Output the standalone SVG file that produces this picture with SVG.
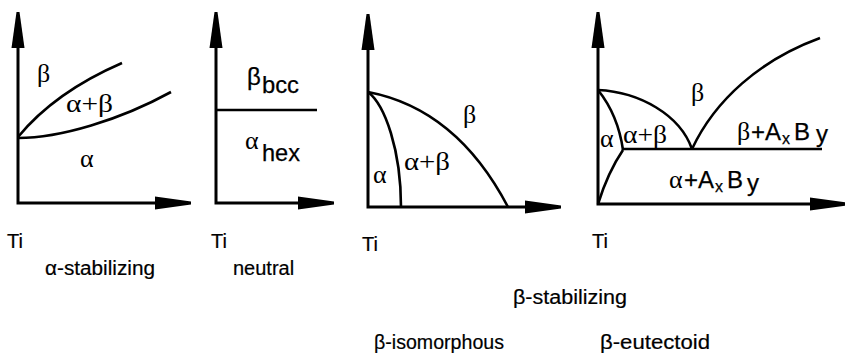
<svg xmlns="http://www.w3.org/2000/svg" width="845" height="358" viewBox="0 0 845 358">
<defs>
<style>
.ax{fill:none;stroke:#000;stroke-width:3}
.cv{fill:none;stroke:#000;stroke-width:2.6}
.g{font-family:"Liberation Serif","Times New Roman",serif;font-size:26px;fill:#000}
.s{font-family:"Liberation Sans",Arial,sans-serif;font-size:24px;fill:#000;stroke:#000;stroke-width:0.25}
.lb{font-family:"Liberation Sans",Arial,sans-serif;font-size:20px;fill:#000;stroke:#000;stroke-width:0.2}
.sub{font-size:16px}
</style>
<polygon id="ah" points="-1.5,0 1.5,0 6.5,36 -6.5,36" fill="#000"/>
</defs>
<rect width="845" height="358" fill="#fff"/>

<g id="panel-alpha">
<g id="axes1">
<path class="ax" d="M18,40 V203 H160"/>
<use href="#ah" transform="translate(18,12)"/>
<use href="#ah" transform="translate(191,203) rotate(90)"/>
</g>
<g id="curves1">
<path class="cv" d="M18,137 Q55,92 122,63"/>
<path class="cv" d="M18,138 C60,138 120,120 171,92"/>
</g>
<text class="g" x="37" y="82">β</text>
<text class="g" x="66" y="112" textLength="47" lengthAdjust="spacingAndGlyphs">α+β</text>
<text class="g" x="80" y="167">α</text>
</g>

<g id="panel-neutral">
<g id="axes2">
<path class="ax" d="M216,40 V203 H300"/>
<use href="#ah" transform="translate(216,12)"/>
<use href="#ah" transform="translate(334,203) rotate(90)"/>
</g>
<path class="cv" d="M216,110 H317"/>
<text x="247" y="85"><tspan class="s" font-size="23">β</tspan><tspan class="s" x="262" y="93" font-size="21" textLength="37" lengthAdjust="spacingAndGlyphs">bcc</tspan></text>
<text x="245" y="149"><tspan class="g" font-size="24">α</tspan><tspan class="s" x="262" y="161" font-size="21" textLength="38" lengthAdjust="spacingAndGlyphs">hex</tspan></text>
</g>

<g id="panel-isomorphous">
<g id="axes3">
<path class="ax" d="M368,44 V207 H530"/>
<use href="#ah" transform="translate(368,14)"/>
<use href="#ah" transform="translate(561,207) rotate(90)"/>
</g>
<g id="curves3">
<path class="cv" d="M368,92 C410,100 465,125 508,207"/>
<path class="cv" d="M368,92 C385,105 401,150 401,207"/>
</g>
<text class="g" x="463" y="123">β</text>
<text class="g" x="404" y="170" textLength="46" lengthAdjust="spacingAndGlyphs">α+β</text>
<text class="g" x="373" y="183">α</text>
</g>

<g id="panel-eutectoid">
<g id="axes4">
<path class="ax" d="M598,40 V204 H822"/>
<use href="#ah" transform="translate(598,12)"/>
<use href="#ah" transform="translate(846,204) rotate(90)"/>
</g>
<g id="curves4">
<path class="cv" d="M598,90 C640,92 680,115 692,149"/>
<path class="cv" d="M598,90 Q618,115 623,150"/>
<path class="cv" d="M623,150 Q608,172 598,204"/>
<path class="cv" d="M692,149 C715,100 760,60 820,38"/>
<path class="cv" d="M623,149 H822"/>
</g>
<text class="g" x="691" y="101">β</text>
<text class="g" x="623" y="143" font-size="23" textLength="44" lengthAdjust="spacingAndGlyphs">α+β</text>
<text class="g" x="600" y="147" font-size="23">α</text>
<text y="140"><tspan class="g" x="737" font-size="24">β</tspan><tspan class="s" x="751">+</tspan><tspan class="s" x="765">A</tspan><tspan class="s sub" x="782" y="144">x</tspan><tspan class="s" x="794" y="140">B</tspan><tspan class="s" x="816" y="142">y</tspan></text>
<text y="188"><tspan class="g" x="669" font-size="24">α</tspan><tspan class="s" x="684">+</tspan><tspan class="s" x="698">A</tspan><tspan class="s sub" x="715" y="192">x</tspan><tspan class="s" x="727" y="188">B</tspan><tspan class="s" x="747" y="191">y</tspan></text>
</g>

<g id="labels">
<text class="lb" x="7" y="248">Ti</text>
<text class="lb" x="211" y="248">Ti</text>
<text class="lb" x="362" y="251">Ti</text>
<text class="lb" x="592" y="248">Ti</text>
<text class="lb" x="45" y="275" textLength="110" lengthAdjust="spacingAndGlyphs">α-stabilizing</text>
<text class="lb" x="233" y="275">neutral</text>
<text class="lb" x="513" y="304" textLength="114" lengthAdjust="spacingAndGlyphs">β-stabilizing</text>
<text class="lb" x="374" y="349" textLength="130" lengthAdjust="spacingAndGlyphs">β-isomorphous</text>
<text class="lb" x="600" y="349" textLength="110" lengthAdjust="spacingAndGlyphs">β-eutectoid</text>
</g>
</svg>
